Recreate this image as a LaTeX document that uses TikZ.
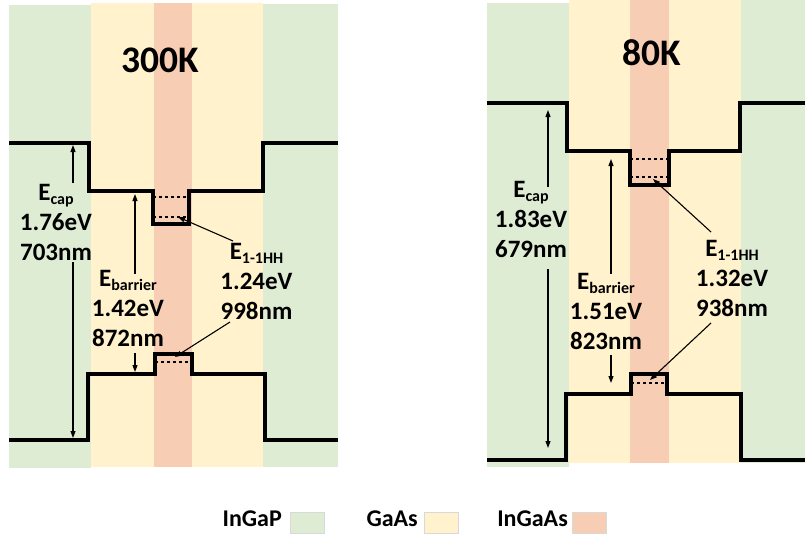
\documentclass[tikz,border=0pt]{standalone}
\usepackage{fontspec}
\setmainfont{Carlito}
\usetikzlibrary{arrows.meta,positioning}
\definecolor{cgreen}{RGB}{222,236,212}
\definecolor{cyellow}{RGB}{255,242,204}
\definecolor{cpink}{RGB}{247,206,180}
\newcommand{\lsub}[1]{\raisebox{-4pt}{\fontsize{16}{16}\selectfont #1}}
\tikzset{
  band/.style={line width=3.2pt, line join=miter},
  qlevel/.style={line width=2.9pt, dash pattern=on 3pt off 3pt},
  marr/.style={-{Triangle[length=7pt,width=5pt]}, line width=1.1pt},
  elab/.style={font=\fontsize{25}{30}\selectfont\bfseries, align=center, inner sep=0pt, anchor=base},
  ttl/.style={font=\fontsize{37.5}{40}\selectfont\bfseries, inner sep=0pt, anchor=base},
  lgtext/.style={font=\fontsize{24}{26}\selectfont\bfseries, inner sep=0pt, anchor=base east},
  swatch/.style={minimum width=34pt, minimum height=21pt, inner sep=0pt, draw=black!15, line width=0.6pt},
}

\begin{document}
\begin{tikzpicture}[x=1pt,y=-1pt]
  \useasboundingbox (0,0) rectangle (805,535);
  \fill[cgreen] (9,5) rectangle (91,468);
  \fill[cyellow] (91,3) rectangle (263,467);
  \fill[cpink] (154,3) rectangle (192,467);
  \fill[cgreen] (263,4) rectangle (338,467);
  \fill[cgreen] (487,3) rectangle (569,467);
  \fill[cyellow] (569,0) rectangle (741,463);
  \fill[cpink] (630,0) rectangle (669,463);
  \fill[cgreen] (741,0) rectangle (805,463);

  \draw[band] (9,143) -| (89,191) -| (153,224) -| (189,191) -| (263,143) -- (338,143);
  \draw[band] (9,440) -| (88,374) -| (155,354) -| (192,374) -| (265,440) -- (338,440);
  \draw[qlevel] (153,197) -- (189,197);
  \draw[qlevel] (153,217) -- (189,217);
  \draw[qlevel] (155,362) -- (192,362);
  \draw[band] (487,103) -| (567,151) -| (630,185) -| (669,151) -| (740,103) -- (805,103);
  \draw[band] (487,460) -| (566,394) -| (631,374) -| (667,394) -| (741,460) -- (805,460);
  \draw[qlevel] (630,159) -- (669,159);
  \draw[qlevel] (630,177) -- (669,177);
  \draw[qlevel] (631,383) -- (667,383);

  \node[ttl] (tLeft) at (160,72.7) {300K};
  \node[ttl] (tRight) at (652,65) {80K};

  \node[elab] (capL) at (56,260) {E\lsub{cap}\\1.76eV\\703nm};
  \node[elab] (barL) at (128,346.7) {E\lsub{barrier}\\1.42eV\\872nm};
  \node[elab] (hhL) at (256.5,319) {E\lsub{1-1HH}\\1.24eV\\998nm};
  \node[elab] (capR) at (531,257.3) {E\lsub{cap}\\1.83eV\\679nm};
  \node[elab] (barR) at (606,349) {E\lsub{barrier}\\1.51eV\\823nm};
  \node[elab] (hhR) at (732,316) {E\lsub{1-1HH}\\1.32eV\\938nm};

  \coordinate (capLu) at (73,183);  \coordinate (capLtop) at (73,145);
  \coordinate (capLd) at (73,262);  \coordinate (capLbot) at (73,438);
  \coordinate (barLu) at (135,274); \coordinate (barLtop) at (135,194);
  \coordinate (barLd) at (135,353); \coordinate (barLbot) at (135,372);
  \coordinate (hhLu) at (233,241);  \coordinate (hhLtop) at (178,217);
  \coordinate (hhLd) at (230,322);  \coordinate (hhLbot) at (175,357);
  \coordinate (capRu) at (548,187); \coordinate (capRtop) at (548,110);
  \coordinate (capRd) at (548,269); \coordinate (capRbot) at (548,448);
  \coordinate (barRu) at (611,274); \coordinate (barRtop) at (611,159);
  \coordinate (barRd) at (611,355); \coordinate (barRbot) at (611,383);
  \coordinate (hhRu) at (711,232);  \coordinate (hhRtop) at (653,179);
  \coordinate (hhRd) at (711,323);  \coordinate (hhRbot) at (650,380);

  \draw[marr] (capLu) -- (capLtop);
  \draw[marr] (capLd) -- (capLbot);
  \draw[marr] (barLu) -- (barLtop);
  \draw[marr] (barLd) -- (barLbot);
  \draw[marr] (hhLu) -- (hhLtop);
  \draw[marr] (hhLd) -- (hhLbot);
  \draw[marr] (capRu) -- (capRtop);
  \draw[marr] (capRd) -- (capRbot);
  \draw[marr] (barRu) -- (barRtop);
  \draw[marr] (barRd) -- (barRbot);
  \draw[marr] (hhRu) -- (hhRtop);
  \draw[marr] (hhRd) -- (hhRbot);

  \node[lgtext] (lgInGaP) at (282,526) {InGaP};
  \node[swatch, fill=cgreen, right=8pt of lgInGaP, yshift=-4.5pt] (swInGaP) {};
  \node[lgtext] (lgGaAs) at (418,526) {GaAs};
  \node[swatch, fill=cyellow, right=6pt of lgGaAs, yshift=-4.5pt] (swGaAs) {};
  \node[lgtext] (lgInGaAs) at (568,526) {InGaAs};
  \node[swatch, fill=cpink, right=4pt of lgInGaAs, yshift=-4.5pt] (swInGaAs) {};
\end{tikzpicture}
\end{document}
